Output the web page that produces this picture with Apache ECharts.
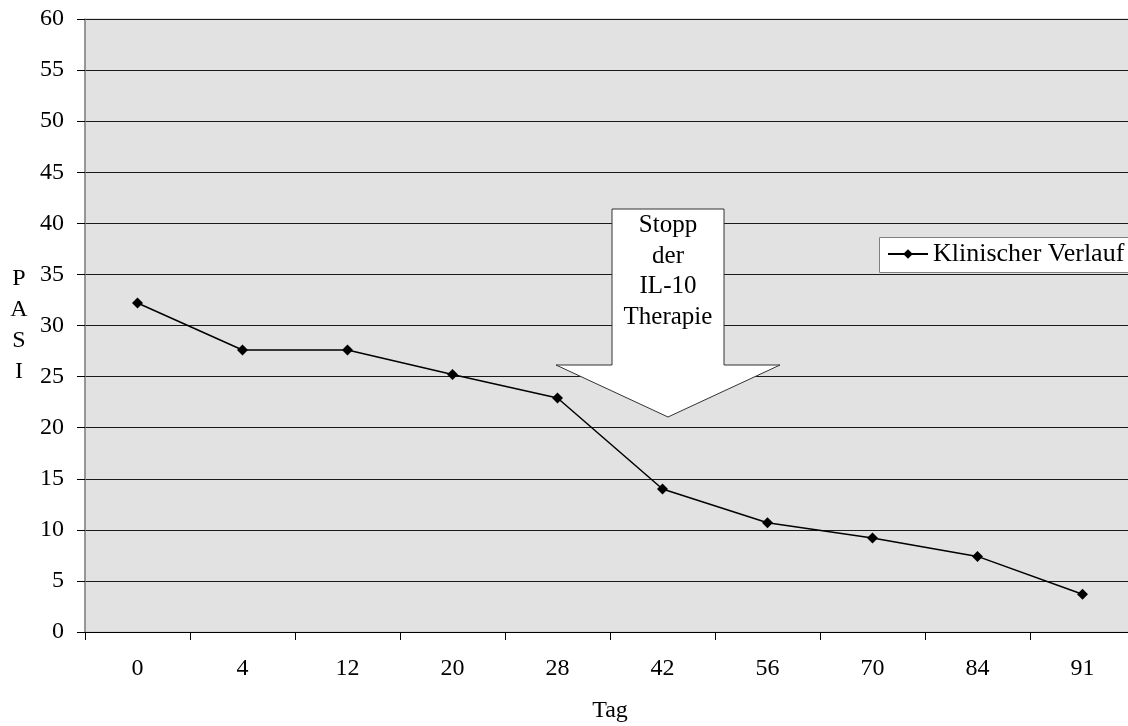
<!DOCTYPE html>
<html>
<head>
<meta charset="utf-8">
<script src="https://cdn.jsdelivr.net/npm/echarts@6/dist/echarts.min.js"></script>
<style>
html,body{margin:0;padding:0;background:#fff;}
#main{width:1128px;height:726px;}
</style>
</head>
<body>
<div id="main"></div>
<script>
const categories = ['0','4','12','20','28','42','56','70','84','91'];
const pasiValues = [32.2, 27.6, 27.6, 25.2, 22.9, 14.0, 10.7, 9.2, 7.4, 3.7];
const seriesName = 'Klinischer Verlauf';
const arrowText = 'Stopp\nder\nIL-10\nTherapie';

const FONT = '"Liberation Serif", "DejaVu Serif", serif';
const chart = echarts.init(document.getElementById('main'));
chart.setOption({
  animation: false,
  backgroundColor: '#ffffff',
  textStyle: { fontFamily: FONT, color: '#000' },
  grid: {
    left: 85, top: 19, width: 1050, height: 613,
    outerBoundsMode: 'none',
    containLabel: false,
    show: true, backgroundColor: '#e2e2e2', borderColor: '#c4c4c4', borderWidth: 1
  },
  legend: {
    left: 880, top: 237,
    z: 20,
    data: [seriesName],
    backgroundColor: 'transparent',
    borderWidth: 0,
    padding: [4, 0, 4, 7],
    itemWidth: 40, itemHeight: 12,
    itemGap: 5,
    textStyle: { fontFamily: FONT, fontSize: 26, color: '#000' }
  },
  xAxis: {
    type: 'category',
    data: categories,
    boundaryGap: true,
    name: 'Tag',
    nameLocation: 'middle',
    nameGap: 67,
    nameTextStyle: { fontFamily: FONT, fontSize: 24, color: '#000' },
    axisLine: { lineStyle: { color: '#000', width: 1 } },
    axisTick: { show: true, length: 8, alignWithLabel: false, lineStyle: { color: '#000' } },
    axisLabel: { fontFamily: FONT, fontSize: 24, color: '#000', margin: 25 },
    splitLine: { show: false }
  },
  yAxis: {
    type: 'value',
    min: 0, max: 60, interval: 5,
    name: 'P\nA\nS\nI',
    nameLocation: 'middle',
    nameRotate: 0,
    nameGap: 66,
    nameTextStyle: { fontFamily: FONT, fontSize: 24, color: '#000', lineHeight: 31, align: 'center' },
    axisLine: { show: true, lineStyle: { color: '#808080', width: 1.5 } },
    axisTick: { show: true, length: 8, lineStyle: { color: '#000' } },
    axisLabel: { fontFamily: FONT, fontSize: 24, color: '#000', margin: 21 },
    splitLine: { show: true, lineStyle: { color: '#1a1a1a', width: 1 } }
  },
  series: [{
    name: seriesName,
    type: 'line',
    data: pasiValues,
    symbol: 'diamond',
    symbolSize: 11,
    itemStyle: { color: '#000' },
    lineStyle: { color: '#000', width: 1.5 },
    z: 5
  }],
  graphic: [
    {
      type: 'rect',
      z: 15,
      shape: { x: 879.5, y: 237.5, width: 300, height: 35 },
      style: { fill: '#ffffff', stroke: '#808080', lineWidth: 1 }
    },
    {
      type: 'polygon',
      z: 10,
      shape: { points: [[612,209],[724,209],[724,365],[780,365],[668,417],[556,365],[612,365]] },
      style: { fill: '#ffffff', stroke: '#333', lineWidth: 1 }
    },
    {
      type: 'text',
      z: 11,
      x: 668, y: 210,
      style: {
        text: arrowText,
        fontFamily: FONT, fontSize: 25, lineHeight: 30.7,
        fill: '#000', align: 'center', verticalAlign: 'top'
      }
    }
  ]
});
</script>
</body>
</html>
